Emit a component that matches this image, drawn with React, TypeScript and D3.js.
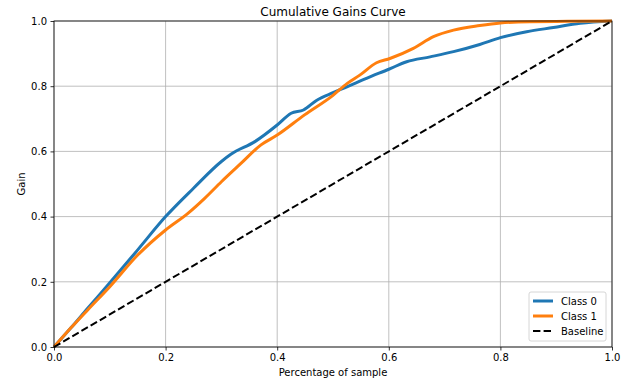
import { useEffect, useRef } from 'react';
import * as d3 from 'd3';

// fraction of sample -> cumulative gain
const class0X = [0, 0.03, 0.06, 0.1, 0.15, 0.2, 0.25, 0.3, 0.317, 0.36, 0.4, 0.425, 0.447, 0.471, 0.5, 0.525, 0.56, 0.6, 0.632, 0.674, 0.716, 0.763, 0.8, 0.847, 0.895, 0.943, 1.0];
const class0Y = [0, 0.058, 0.118, 0.197, 0.298, 0.4, 0.487, 0.569, 0.591, 0.63, 0.681, 0.717, 0.727, 0.757, 0.78, 0.798, 0.824, 0.852, 0.875, 0.89, 0.906, 0.928, 0.949, 0.967, 0.98, 0.993, 1.0];
const class1X = [0, 0.03, 0.06, 0.1, 0.15, 0.2, 0.24, 0.27, 0.3, 0.335, 0.371, 0.4, 0.449, 0.5, 0.525, 0.548, 0.578, 0.602, 0.644, 0.68, 0.716, 0.763, 0.8, 0.853, 0.92, 1.0];
const class1Y = [0, 0.058, 0.113, 0.185, 0.282, 0.359, 0.41, 0.456, 0.507, 0.563, 0.62, 0.65, 0.712, 0.772, 0.808, 0.834, 0.872, 0.885, 0.916, 0.952, 0.972, 0.986, 0.994, 0.998, 0.999, 1.0];
const baselineX = [0, 1];
const baselineY = [0, 1];
const ticks = [0, 0.2, 0.4, 0.6, 0.8, 1.0];

const seriesNames = ['Class 0', 'Class 1', 'Baseline'];
const seriesColors = ['#1f77b4', '#ff7f0e', '#000000'];

export default function App() {
  const svgRef = useRef<SVGSVGElement>(null);

  useEffect(() => {
    if (!svgRef.current) return;
    d3.select(svgRef.current).selectAll('*').remove();

    const W = 643;
    const H = 390;
    const margin = { top: 21, right: 31, bottom: 43, left: 54 };
    const width = W - margin.left - margin.right;
    const height = H - margin.top - margin.bottom;

    const svg = d3
      .select(svgRef.current)
      .attr('width', W)
      .attr('height', H)
      .style('font-family', '"DejaVu Sans", sans-serif');

    svg.append('rect').attr('width', W).attr('height', H).attr('fill', '#fff');

    const g = svg.append('g').attr('transform', `translate(${margin.left},${margin.top})`);

    const x = d3.scaleLinear().domain([0, 1]).range([0, width]);
    const y = d3.scaleLinear().domain([0, 1]).range([height, 0]);

    // grid
    ticks.forEach((t) => {
      g.append('line')
        .attr('x1', x(t)).attr('x2', x(t))
        .attr('y1', 0).attr('y2', height)
        .attr('stroke', '#b0b0b0').attr('stroke-width', 0.8);
      g.append('line')
        .attr('x1', 0).attr('x2', width)
        .attr('y1', y(t)).attr('y2', y(t))
        .attr('stroke', '#b0b0b0').attr('stroke-width', 0.8);
    });

    const line = d3
      .line<[number, number]>()
      .x((d) => x(d[0]))
      .y((d) => y(d[1]))
      .curve(d3.curveMonotoneX);

    const series: [number, number][][] = [
      class0X.map((v, i) => [v, class0Y[i]]),
      class1X.map((v, i) => [v, class1Y[i]]),
      baselineX.map((v, i) => [v, baselineY[i]]),
    ];

    series.forEach((pts, i) => {
      g.append('path')
        .datum(pts)
        .attr('fill', 'none')
        .attr('stroke', seriesColors[i])
        .attr('stroke-width', i === 2 ? 2 : 3)
        .attr('stroke-dasharray', i === 2 ? '7.4,3.2' : null)
        .attr('stroke-linejoin', 'round')
        .attr('d', line);
    });

    // axes
    const xAxis = g
      .append('g')
      .attr('transform', `translate(0,${height})`)
      .call(d3.axisBottom(x).tickValues(ticks).tickFormat(d3.format('.1f')).tickSizeOuter(0).tickSize(3.5).tickPadding(3.5));
    const yAxis = g
      .append('g')
      .call(d3.axisLeft(y).tickValues(ticks).tickFormat(d3.format('.1f')).tickSizeOuter(0).tickSize(3.5).tickPadding(3.5));
    [xAxis, yAxis].forEach((a) => {
      a.select('.domain').remove();
      a.selectAll('text').attr('font-size', 10).attr('font-family', '"DejaVu Sans", sans-serif').attr('fill', '#000');
      a.selectAll('line').attr('stroke', '#000').attr('stroke-width', 0.8);
    });

    // frame
    g.append('rect')
      .attr('width', width)
      .attr('height', height)
      .attr('fill', 'none')
      .attr('stroke', '#000')
      .attr('stroke-width', 0.8);

    // title and labels
    svg.append('text')
      .attr('x', margin.left + width / 2)
      .attr('y', 16)
      .attr('text-anchor', 'middle')
      .attr('font-size', 12)
      .text('Cumulative Gains Curve');
    svg.append('text')
      .attr('x', margin.left + width / 2)
      .attr('y', 376)
      .attr('text-anchor', 'middle')
      .attr('font-size', 10)
      .text('Percentage of sample');
    svg.append('text')
      .attr('transform', `translate(25,${margin.top + height / 2}) rotate(-90)`)
      .attr('text-anchor', 'middle')
      .attr('font-size', 10)
      .text('Gain');

    // legend
    const lg = g.append('g').attr('transform', `translate(${width - 83},${height - 55})`);
    lg.append('rect')
      .attr('width', 77)
      .attr('height', 49)
      .attr('rx', 2)
      .attr('fill', '#fff')
      .attr('fill-opacity', 0.8)
      .attr('stroke', '#ccc')
      .attr('stroke-width', 0.8);
    seriesNames.forEach((name, i) => {
      const yy = 9 + i * 15;
      lg.append('line')
        .attr('x1', 4).attr('x2', 24)
        .attr('y1', yy).attr('y2', yy)
        .attr('stroke', seriesColors[i])
        .attr('stroke-width', i === 2 ? 2 : 3)
        .attr('stroke-dasharray', i === 2 ? '7.4,3.2' : null);
      lg.append('text')
        .attr('x', 32)
        .attr('y', yy + 3.5)
        .attr('font-size', 10)
        .text(name);
    });
  }, []);

  return <svg ref={svgRef} style={{ display: 'block', position: 'absolute', left: 0, top: 0 }} />;
}
